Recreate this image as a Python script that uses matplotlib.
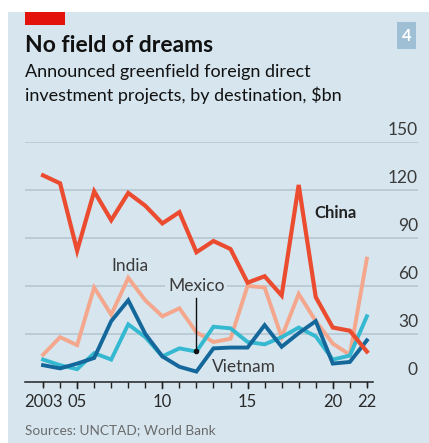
import matplotlib.pyplot as plt
from matplotlib.patches import Rectangle

years = list(range(2003, 2023))
china = [129, 124, 82, 119, 101, 118, 110, 99, 106, 81, 88, 83, 62, 66, 54, 123, 53, 34, 32, 19]
india = [17, 28, 23, 59, 42, 65, 51, 41, 46, 31, 25, 27, 60, 59, 28, 55, 38, 24, 17, 77]
mexico = [14, 10.5, 8, 18, 14, 36, 28, 16, 21, 19, 34.5, 33.5, 25, 23.5, 28, 34, 28.5, 14, 16.5, 41]
vietnam = [10.5, 8.5, 11.5, 15, 38, 51, 30, 16, 9.5, 6.5, 21, 21.5, 21.5, 35.5, 22, 30.5, 38, 11.5, 12.5, 26]

tick_years = [2003, 2005, 2010, 2015, 2020, 2022]
tick_labels = ["2003", "05", "10", "15", "20", "22"]
y_ticks = [0, 30, 60, 90, 120, 150]

BG = "#d6e5ee"
W, H = 429, 443
FONT = "Lato"


def fx(px):
    return px / W


def fy(py):
    return 1 - py / H


fig = plt.figure(figsize=(W / 100, H / 100), dpi=100)
fig.patch.set_facecolor("white")
fig.patches.append(Rectangle((fx(8), 0), 1 - fx(8), fy(12), transform=fig.transFigure,
                             facecolor=BG, edgecolor="none", zorder=-2))
fig.patches.append(Rectangle((fx(25), fy(25)), fx(40), 13 / H, transform=fig.transFigure,
                             facecolor="#e3120b", edgecolor="none", zorder=-1))
fig.patches.append(Rectangle((fx(397), fy(49)), fx(19), 27 / H, transform=fig.transFigure,
                             facecolor="#9fbfd5", edgecolor="none", zorder=-1))
fig.text(fx(406.5), fy(36), "4", color="white", fontsize=12, fontweight="bold",
         ha="center", va="center", family=FONT)

fig.text(fx(25), fy(52), "No field of dreams", fontsize=16.5, fontweight="bold",
         ha="left", va="baseline", family=FONT, color="#111111")
fig.text(fx(25), fy(77), "Announced greenfield foreign direct", fontsize=13,
         ha="left", va="baseline", family=FONT, color="#111111")
fig.text(fx(25), fy(101), "investment projects, by destination, $bn", fontsize=13,
         ha="left", va="baseline", family=FONT, color="#111111")
fig.text(fx(25), fy(430), "Sources: UNCTAD; World Bank", fontsize=9.8,
         ha="left", va="center", family=FONT, color="#6b6b6b")

ax = fig.add_axes([fx(25), fy(382), fx(418) - fx(25), (382 - 141.7) / H])
ax.set_zorder(2)
ax.set_facecolor("none")
x0 = 2003 - 18 / 17
x1 = 2022 + 51 / 17
ax.set_xlim(x0, x1)
ax.set_ylim(0, 150)
for s in ax.spines.values():
    s.set_visible(False)

for v in y_ticks[1:]:
    ax.axhline(v, color="#b5c5cf", lw=1.1, zorder=1)
    ax.text(x1, v + 2.5, str(v), ha="right", va="bottom", fontsize=12.5,
            family=FONT, color="#3a3a3a")
ax.text(x1, 2.5, "0", ha="right", va="bottom", fontsize=12.5, family=FONT, color="#3a3a3a")
ax.plot([x0, 2022.35], [0, 0], color="#222222", lw=1.1, zorder=6, clip_on=False)

ax.plot(years, india, color="#f4a78c", lw=2.8, zorder=3, solid_joinstyle="miter")
ax.plot(years, mexico, color="#35b9d0", lw=2.8, zorder=4, solid_joinstyle="miter")
ax.plot(years, vietnam, color="#14679b", lw=2.8, zorder=4, solid_joinstyle="miter")
ax.plot(years, china, color="#eb4b2f", lw=3, zorder=5, solid_joinstyle="miter")

ax.set_xticks(years)
ax.set_xticklabels([""] * len(years))
ax.tick_params(axis="x", direction="out", length=4, width=1, color="#222222", pad=2)
ax.set_yticks([])
for yr, lab in zip(tick_years, tick_labels):
    ln = 6 if yr in (2005, 2010, 2015, 2020) else 4
    ax.plot([yr, yr], [0, -ln * 150 / 240.3], color="#222222", lw=1, clip_on=False, zorder=6)
    ax.text(yr, -12.5, lab, ha="center", va="center", fontsize=12,
            family=FONT, color="#2a2a2a", clip_on=False)

ax.text(2018.9, 105.6, "China", fontsize=12, fontweight="bold", family=FONT,
        ha="left", va="center", color="#222222")
ax.text(2008.1, 72.5, "India", fontsize=12.5, family=FONT,
        ha="center", va="center", color="#3a3a3a")
ax.text(2012.0, 60, "Mexico", fontsize=12.5, family=FONT,
        ha="center", va="center", color="#3a3a3a", zorder=2,
        bbox=dict(facecolor=BG, edgecolor="none", pad=2))
ax.plot([2012, 2012], [52.5, 19.5], color="#111111", lw=1, zorder=7)
ax.plot([2012], [19.5], "o", color="#111111", ms=3, zorder=7)
ax.text(2014.8, 9.4, "Vietnam", fontsize=12.5, family=FONT,
        ha="center", va="center", color="#3a3a3a", zorder=2)

fig.savefig("out.png", dpi=100, facecolor=fig.get_facecolor())
